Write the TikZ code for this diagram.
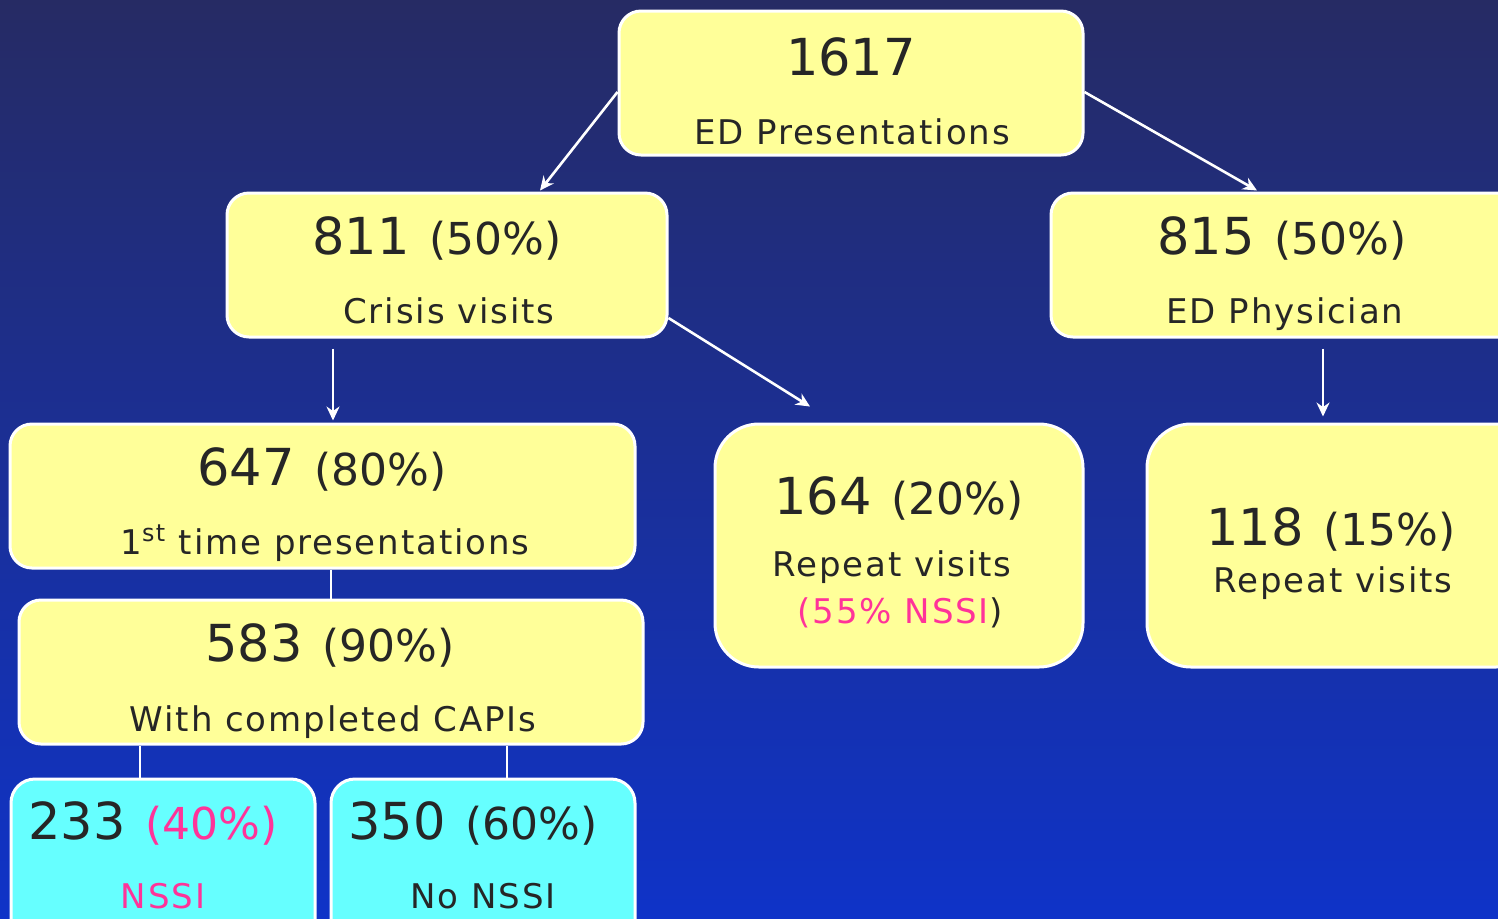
\documentclass[tikz,border=0pt]{standalone}
\usepackage{fontspec}
\setmainfont{DejaVu Sans}
\newfontfamily\labf[LetterSpace=5.5]{DejaVu Sans}
\usetikzlibrary{arrows.meta,calc}
\definecolor{bgtop}{RGB}{38,43,100}
\definecolor{bgmid}{RGB}{28,48,158}
\definecolor{bgbot}{RGB}{15,51,200}
\definecolor{boxyellow}{RGB}{255,255,153}
\definecolor{boxcyan}{RGB}{102,255,255}
\definecolor{txtc}{RGB}{38,38,38}
\definecolor{pinkc}{RGB}{255,51,153}
\newcommand\numsz{\fontsize{25.5pt}{30pt}\selectfont}
\newcommand\pctsz{\fontsize{22pt}{26pt}\selectfont}
\newcommand\labsz{\labf\fontsize{17pt}{20pt}\selectfont}
\tikzset{
  box/.style={draw=white, line width=1.5pt, rounded corners=11pt, fill=boxyellow, inner sep=0pt},
  bigbox/.style={box, rounded corners=22pt},
  cyanbox/.style={box, fill=boxcyan, rounded corners=12pt},
  lbl/.style={anchor=base, inner sep=0pt, text=txtc},
  arr/.style={draw=white, line width=1.3pt, -{Stealth[length=7pt,width=6.5pt]}},
  ln/.style={draw=white, line width=1.2pt}
}
\begin{document}
\begin{tikzpicture}[x=0.5pt,y=-0.5pt]
\useasboundingbox (0,0) rectangle (1498,918);
\clip (0,0) rectangle (1498,918);
\shade[top color=bgtop, middle color=bgmid, bottom color=bgbot] (0,0) rectangle (1498,918);

% boxes
\node[box, minimum width=232pt, minimum height=72pt] (top) at (851,83) {};
\node[box, minimum width=220pt, minimum height=72pt] (crisis) at (447,265) {};
\node[box, minimum width=244.5pt, minimum height=72pt] (phys) at (1295.5,265) {};
\node[box, minimum width=312.5pt, minimum height=72pt] (first) at (322.5,496) {};
\node[bigbox, minimum width=184pt, minimum height=121.5pt] (rep1) at (899,545.5) {};
\node[bigbox, minimum width=196.5pt, minimum height=121.5pt] (rep2) at (1343.5,545.5) {};
\node[box, minimum width=312pt, minimum height=72pt] (capi) at (331,672) {};
\node[cyanbox, minimum width=152pt, minimum height=85.5pt] (nssi) at (163,864.5) {};
\node[cyanbox, minimum width=152pt, minimum height=85.5pt] (nonssi) at (483,864.5) {};

% texts
\node[lbl] (t1) at (851,75) {\numsz 1617};
\node[lbl] (t1b) at (852,144) {\labsz ED Presentations};
\node[lbl] (t2) at (437,254) {{\numsz 811}\hspace{10pt}{\pctsz (50\%)}};
\node[lbl] (t2b) at (449,323) {\labsz Crisis visits};
\node[lbl] (t3) at (1282,254) {{\numsz 815}\hspace{10pt}{\pctsz (50\%)}};
\node[lbl] (t3b) at (1285,323) {\labsz ED Physician};
\node[lbl] (t4) at (322,485) {{\numsz 647}\hspace{10pt}{\pctsz (80\%)}};
\node[lbl] (t4b) at (325,554) {\labsz 1\textsuperscript{st} time presentations};
\node[lbl] (t5) at (899,514) {{\numsz 164}\hspace{10pt}{\pctsz (20\%)}};
\node[lbl] (t5b) at (892,576) {\labsz Repeat visits};
\node[lbl] (t5c) at (900,623) {\labsz \textcolor{pinkc}{(55\% NSSI})};
\node[lbl] (t6) at (1331,545) {{\numsz 118}\hspace{10pt}{\pctsz (15\%)}};
\node[lbl] (t6b) at (1333,592) {\labsz Repeat visits};
\node[lbl] (t7) at (330,661) {{\numsz 583}\hspace{10pt}{\pctsz (90\%)}};
\node[lbl] (t7b) at (333,731) {\labsz With completed CAPIs};
\node[lbl] (t8) at (153,839) {{\numsz 233}\hspace{10pt}{\pctsz\color{pinkc} (40\%)}};
\node[lbl, text=pinkc] (t8b) at (163,908) {\labsz NSSI};
\node[lbl] (t9) at (473,839) {{\numsz 350}\hspace{10pt}{\pctsz (60\%)}};
\node[lbl] (t9b) at (483,908) {\labsz No NSSI};

% connectors
\draw[arr] ([yshift=-4.5pt]top.west) -- ([xshift=46.5pt,yshift=0.5pt]crisis.north);
\draw[arr] ([yshift=-4.5pt]top.east) -- ([xshift=-19.25pt,yshift=0.5pt]phys.north);
\draw[arr] ([yshift=-26.5pt]crisis.east) -- ([xshift=-44.5pt,yshift=8pt]rep1.north);
\draw[arr] ([xshift=-57pt,yshift=-5pt]crisis.south) -- ([xshift=5.25pt,yshift=1pt]first.north);
\draw[arr] ([xshift=13.75pt,yshift=-5pt]phys.south) -- ([xshift=-10.25pt,yshift=3pt]rep2.north);
\draw[ln] (capi.north |- first.south) -- (capi.north);
\coordinate (c1) at ([xshift=-11.5pt]nssi.north);
\coordinate (c2) at ([xshift=12pt]nonssi.north);
\draw[ln] (c1) -- (c1 |- capi.south);
\draw[ln] (c2) -- (c2 |- capi.south);
\end{tikzpicture}
\end{document}
